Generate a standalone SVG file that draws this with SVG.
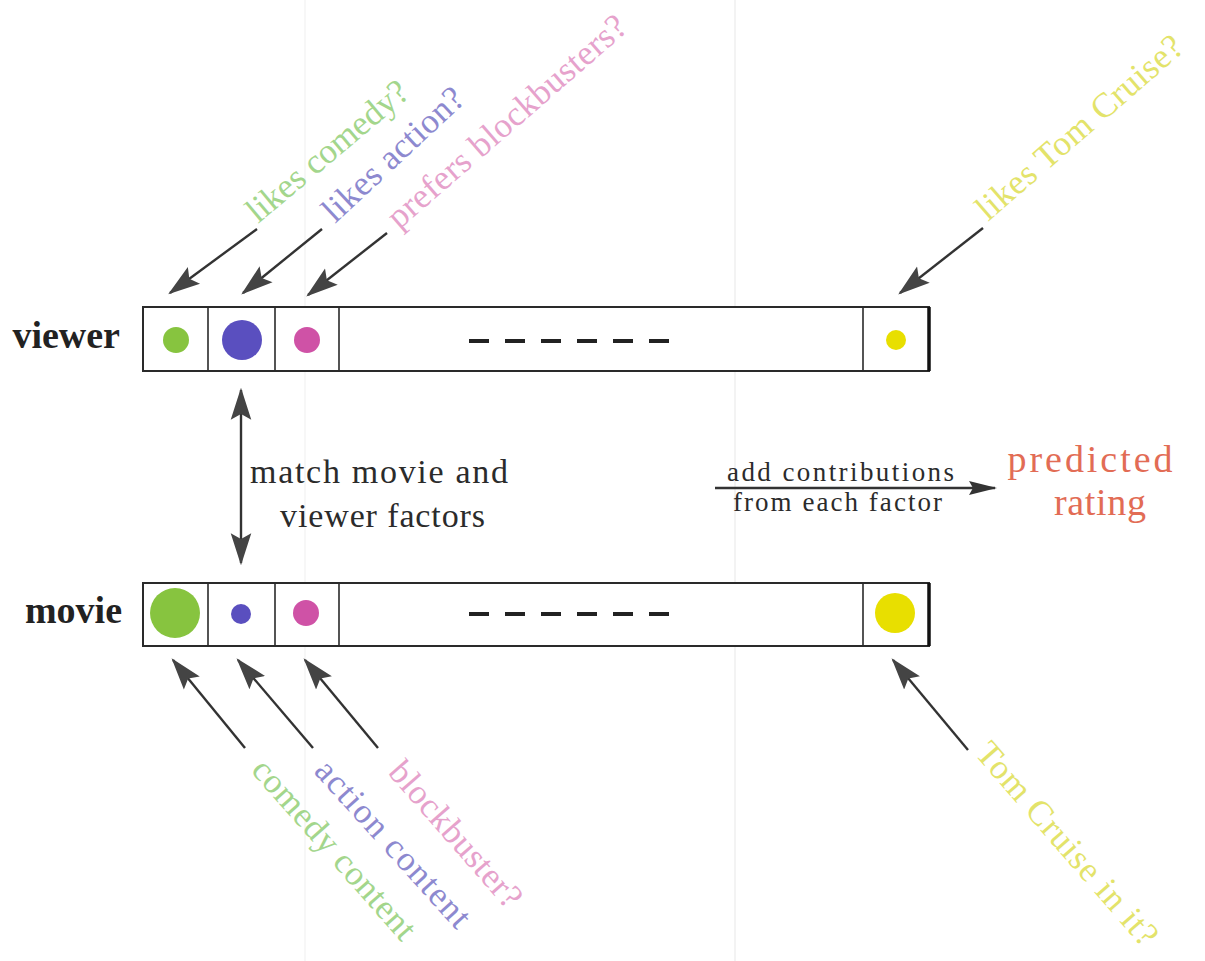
<svg xmlns="http://www.w3.org/2000/svg" width="1205" height="961" viewBox="0 0 1205 961">
  <style>
    .bar { fill: #ffffff; stroke: #2a2a2a; stroke-width: 2; }
    .div { stroke: #2a2a2a; stroke-width: 1.6; }
    .endcap { stroke: #111; stroke-width: 3.5; }
    .dash { stroke: #222; stroke-width: 4; stroke-dasharray: 20 16; }
    .conn { stroke: #333; stroke-width: 2.4; fill: none; }
    .lbl { font-family: "Liberation Serif", "DejaVu Serif", serif; fill: #2b2b2b; }
    .row { font-family: "Liberation Serif", "DejaVu Serif", serif; font-weight: bold; font-size: 38px; fill: #222; }
    .tag { font-family: "Liberation Serif", "DejaVu Serif", serif; font-size: 35px; }
    .green { fill: #a3d68c; }
    .blue { fill: #8d89cf; }
    .pink { fill: #e6a2cc; }
    .yellow { fill: #e3e36a; }
    .result { font-family: "Liberation Serif", "DejaVu Serif", serif; font-size: 38px; fill: #e26c55; }
  </style>
  <defs>
    <marker id="head" markerUnits="userSpaceOnUse" markerWidth="32" markerHeight="24" viewBox="0 0 28 20" refX="26" refY="10" orient="auto-start-reverse">
      <path d="M0,1 L28,10 L0,19 L5,10 Z" fill="#444"/>
    </marker>
    <marker id="headSmall" markerUnits="userSpaceOnUse" markerWidth="28" markerHeight="16" viewBox="0 0 28 16" refX="26" refY="8" orient="auto">
      <path d="M0,1 L28,8 L0,15 L4,8 Z" fill="#333"/>
    </marker>
  </defs>

  <rect width="1205" height="961" fill="#ffffff"/>
  <!-- faint page creases -->
  <line x1="305" y1="0" x2="305" y2="961" stroke="#f4f4f4" stroke-width="1.5"/>
  <line x1="735" y1="0" x2="735" y2="961" stroke="#efefef" stroke-width="1.5"/>

  <!-- viewer factor vector -->
  <g id="viewer">
    <text class="row" x="120" y="348" text-anchor="end">viewer</text>
    <rect class="bar" x="143" y="307" width="786" height="64"/>
    <line class="div" x1="208" y1="307" x2="208" y2="371"/>
    <line class="div" x1="275" y1="307" x2="275" y2="371"/>
    <line class="div" x1="339" y1="307" x2="339" y2="371"/>
    <line class="div" x1="863" y1="307" x2="863" y2="371"/>
    <line class="endcap" x1="929" y1="307" x2="929" y2="371"/>
    <circle cx="176" cy="340" r="13" fill="#87c43f"/>
    <circle cx="242" cy="340" r="20" fill="#5a4fbf"/>
    <circle cx="307" cy="340" r="13" fill="#cf52a6"/>
    <circle cx="896" cy="340" r="10" fill="#e8df00"/>
    <line class="dash" x1="469" y1="341" x2="669" y2="341"/>
  </g>

  <!-- movie factor vector -->
  <g id="movie">
    <text class="row" x="122" y="623" text-anchor="end">movie</text>
    <rect class="bar" x="143" y="583" width="786" height="63"/>
    <line class="div" x1="208" y1="583" x2="208" y2="646"/>
    <line class="div" x1="275" y1="583" x2="275" y2="646"/>
    <line class="div" x1="339" y1="583" x2="339" y2="646"/>
    <line class="div" x1="863" y1="583" x2="863" y2="646"/>
    <line class="endcap" x1="929" y1="583" x2="929" y2="646"/>
    <circle cx="175" cy="613" r="25" fill="#87c43f"/>
    <circle cx="241" cy="614" r="10" fill="#5a4fbf"/>
    <circle cx="306" cy="613" r="13" fill="#cf52a6"/>
    <circle cx="895" cy="613" r="20" fill="#e8df00"/>
    <line class="dash" x1="469" y1="614" x2="669" y2="614"/>
  </g>

  <!-- viewer factor tags -->
  <g id="viewer-tags">
    <text class="tag green" x="258" y="224" textLength="200" transform="rotate(-40 258 224)">likes comedy?</text>
    <text class="tag blue" x="335" y="224" textLength="180" transform="rotate(-43 335 224)">likes action?</text>
    <text class="tag pink" x="399" y="230" textLength="305" transform="rotate(-41 399 230)">prefers blockbusters?</text>
    <text class="tag yellow" x="988" y="222" textLength="262" transform="rotate(-41 988 222)">likes Tom Cruise?</text>
  </g>

  <!-- movie factor tags -->
  <g id="movie-tags">
    <text class="tag green" x="250" y="771" textLength="229" transform="rotate(48.5 250 771)">comedy content</text>
    <text class="tag blue" x="313" y="772" textLength="214" transform="rotate(47.8 313 772)">action content</text>
    <text class="tag pink" x="387" y="773" textLength="183" transform="rotate(48.8 387 773)">blockbuster?</text>
    <text class="tag yellow" x="974" y="754" textLength="258" transform="rotate(49 974 754)">Tom Cruise in it?</text>
  </g>

  <!-- matching note -->
  <g id="match">
    <text class="lbl" x="250" y="483" font-size="34" textLength="258">match movie and</text>
    <text class="lbl" x="280" y="527" font-size="34" textLength="205">viewer factors</text>
  </g>

  <!-- combination step -->
  <g id="combine">
    <text class="lbl" x="727" y="481" font-size="27" textLength="227">add contributions</text>
    <text class="lbl" x="733" y="511" font-size="27" textLength="209">from each factor</text>
  </g>

  <g id="prediction">
    <text class="result" x="1090" y="472" text-anchor="middle" textLength="165">predicted</text>
    <text class="result" x="1100" y="515" text-anchor="middle" textLength="92">rating</text>
  </g>

  <!-- connectors -->
  <g id="connectors">
    <line class="conn" x1="257" y1="229" x2="170" y2="293" marker-end="url(#head)"/>
    <line class="conn" x1="322" y1="229" x2="243" y2="293" marker-end="url(#head)"/>
    <line class="conn" x1="387" y1="233" x2="308" y2="295" marker-end="url(#head)"/>
    <line class="conn" x1="983" y1="228" x2="900" y2="293" marker-end="url(#head)"/>

    <line class="conn" x1="245" y1="748" x2="173" y2="660" marker-end="url(#head)"/>
    <line class="conn" x1="313" y1="748" x2="238" y2="660" marker-end="url(#head)"/>
    <line class="conn" x1="378" y1="748" x2="305" y2="660" marker-end="url(#head)"/>
    <line class="conn" x1="968" y1="750" x2="893" y2="660" marker-end="url(#head)"/>

    <line class="conn" x1="241" y1="390" x2="241" y2="563" marker-start="url(#head)" marker-end="url(#head)"/>

    <line class="conn" x1="715" y1="488" x2="995" y2="488" marker-end="url(#headSmall)"/>
  </g>
</svg>
